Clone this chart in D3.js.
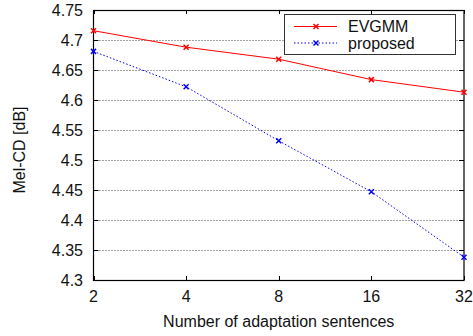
<!DOCTYPE html>
<html>
<head>
<meta charset="utf-8">
<script src="https://cdn.jsdelivr.net/npm/d3@7"></script>
<style>
  body { margin: 0; background: #fff; }
  text { font-family: "Liberation Sans", Arial, sans-serif; fill: #111; }
</style>
</head>
<body>
<svg id="chart" width="473" height="336"></svg>
<script>
const sentences = [2, 4, 8, 16, 32];
const evgmm = [4.7155, 4.688, 4.668, 4.634, 4.613];
const proposed = [4.681, 4.622, 4.532, 4.447, 4.338];
const yTicks = [4.3, 4.35, 4.4, 4.45, 4.5, 4.55, 4.6, 4.65, 4.7, 4.75];
const seriesNames = ['EVGMM', 'proposed'];

const svg = d3.select('#chart');
const m = { left: 93.5, right: 464, top: 10, bottom: 280 };

const x = d3.scaleLog().base(2).domain([2, 32]).range([m.left, m.right]);
const y = d3.scaleLinear().domain([4.3, 4.75]).range([m.bottom, m.top]);

const chart = svg.append('g');

// grid
chart.selectAll('.grid')
  .data(yTicks.filter(d => d > 4.3 && d < 4.75))
  .enter().append('line')
  .attr('x1', m.left).attr('x2', m.right)
  .attr('y1', d => Math.round(y(d)) + 0.5).attr('y2', d => Math.round(y(d)) + 0.5)
  .attr('stroke', '#444')
  .attr('stroke-width', 1)
  .attr('stroke-dasharray', '1,2');

// ticks inside, left + right
yTicks.forEach(t => {
  const yy = Math.round(y(t)) + 0.5;
  chart.append('line').attr('x1', m.left).attr('x2', m.left + 5).attr('y1', yy).attr('y2', yy).attr('stroke', '#000');
  chart.append('line').attr('x1', m.right - 5).attr('x2', m.right).attr('y1', yy).attr('y2', yy).attr('stroke', '#000');
  chart.append('text')
    .attr('x', 83).attr('y', y(t)).attr('dy', '0.36em')
    .attr('text-anchor', 'end')
    .style('font-size', '16px')
    .text(t);
});

sentences.forEach(s => {
  const xx = Math.round(x(s)) + 0.5;
  chart.append('line').attr('x1', xx).attr('x2', xx).attr('y1', m.bottom).attr('y2', m.bottom - 4).attr('stroke', '#000');
  chart.append('line').attr('x1', xx).attr('x2', xx).attr('y1', m.top).attr('y2', m.top + 4).attr('stroke', '#000');
  chart.append('text')
    .attr('x', x(s)).attr('y', 302)
    .attr('text-anchor', 'middle')
    .style('font-size', '16px')
    .text(s);
});

// frame
chart.append('rect')
  .attr('x', m.left).attr('y', m.top + 0.5)
  .attr('width', m.right - m.left).attr('height', m.bottom - m.top)
  .attr('fill', 'none').attr('stroke', '#000').attr('stroke-width', 1.2);

// axis titles
chart.append('text')
  .attr('x', (m.left + m.right) / 2).attr('y', 327)
  .attr('text-anchor', 'middle')
  .style('font-size', '16px')
  .text('Number of adaptation sentences');

chart.append('text')
  .attr('transform', 'translate(25,150) rotate(-90)')
  .attr('text-anchor', 'middle')
  .style('font-size', '16px')
  .text('Mel-CD [dB]');

const line = d3.line().x(d => x(d[0])).y(d => y(d[1]));
const styles = [
  { color: '#ff0000', dash: null, vals: evgmm },
  { color: '#0000ff', dash: '1.5,2', vals: proposed }
];

function marker(g, cx, cy, color) {
  const s = 2.5;
  g.append('path')
    .attr('d', `M${cx - s},${cy - s}L${cx + s},${cy + s}M${cx - s},${cy + s}L${cx + s},${cy - s}`)
    .attr('stroke', color).attr('stroke-width', 1.5).attr('fill', 'none');
}

styles.forEach(st => {
  const pts = sentences.map((s, i) => [s, st.vals[i]]);
  chart.append('path')
    .attr('d', line(pts))
    .attr('fill', 'none')
    .attr('stroke', st.color)
    .attr('stroke-width', 1)
    .attr('stroke-dasharray', st.dash);
  pts.forEach(p => marker(chart, x(p[0]), y(p[1]), st.color));
});

// legend
const lg = chart.append('g');
lg.append('rect')
  .attr('x', 284.5).attr('y', 14.5).attr('width', 171).attr('height', 40)
  .attr('fill', '#fff').attr('stroke', '#333').attr('stroke-width', 1);
seriesNames.forEach((name, i) => {
  const ly = 26.5 + i * 16.5;
  lg.append('line')
    .attr('x1', 294).attr('x2', 337).attr('y1', ly).attr('y2', ly)
    .attr('stroke', styles[i].color).attr('stroke-dasharray', styles[i].dash);
  marker(lg, 316, ly, styles[i].color);
  lg.append('text')
    .attr('x', 348).attr('y', ly).attr('dy', '0.36em')
    .style('font-size', '16px')
    .text(name);
});
</script>
</body>
</html>
